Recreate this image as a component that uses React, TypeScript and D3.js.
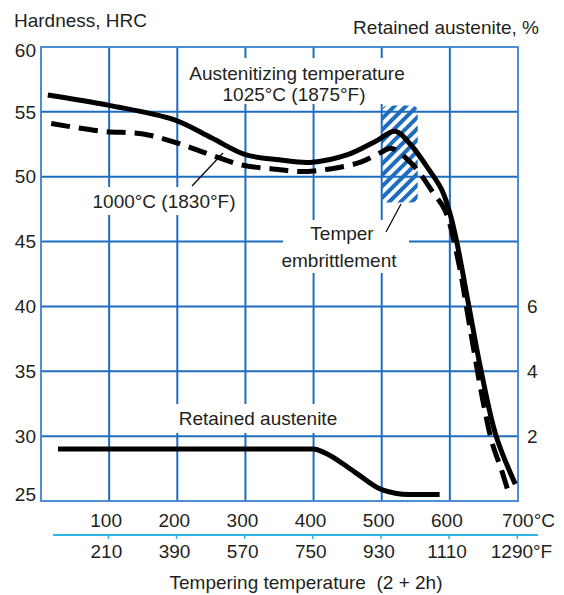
import React from 'react';
import * as d3 from 'd3';

// ---- data ----
const C_TICKS = [100, 200, 300, 400, 500, 600, 700];
const C_LABELS = ['100', '200', '300', '400', '500', '600', '700°C'];
const F_TICKS = [210, 390, 570, 750, 930, 1110, 1290];
const F_LABELS = ['210', '390', '570', '750', '930', '1110', '1290°F'];
const HRC_TICKS = [25, 30, 35, 40, 45, 50, 55, 60];
const RA_TICKS = [2, 4, 6];

// Austenitizing 1025°C: [°C, HRC]
const AUST_1025: [number, number][] = [
  [10, 56.3], [100, 55.5], [195, 54.4], [250, 53.0], [300, 51.7], [350, 51.3],
  [395, 51.1], [450, 51.7], [490, 52.7], [520, 53.5], [542, 52.5], [566, 50.8],
  [588, 49.0], [600, 47.2], [610, 45.0], [628, 40.0], [646, 35.0], [668, 30.0],
  [696, 26.3],
];
// Austenitizing 1000°C: [°C, HRC]
const AUST_1000: [number, number][] = [
  [15, 54.1], [90, 53.5], [150, 53.3], [200, 52.6], [248, 51.7],
  [295, 50.9], [340, 50.6], [380, 50.4], [424, 50.6], [468, 51.1], [500, 51.9],
  [514, 52.2], [546, 50.9], [575, 48.8], [593, 47.4], [612, 43.6], [630, 38.2],
  [649, 32.6], [662, 29.5], [677, 27.2], [688, 25.3],
];
// Retained austenite: [°C, %]
const RETAINED: [number, number][] = [
  [25, 1.6], [200, 1.6], [400, 1.6], [415, 1.5], [460, 0.9], [500, 0.35],
  [540, 0.2], [585, 0.2],
];
// Temper embrittlement zone
const EMBRITTLE_C = [500, 553];
const EMBRITTLE_HRC = [48.0, 55.5];

const FONT = '"Liberation Sans", Arial, Helvetica, sans-serif';
const TEXT = '#231f20';
const GRID = '#1f6dbf';
const BORDER = '#3a82d2';
const CYAN = '#2fb4e6';

export default function App() {
  const W = 564, H = 595;
  const L = 41, R = 518, T = 47, B = 501;
  const x = d3.scaleLinear().domain([0, 700]).range([L, R]);
  const y = d3.scaleLinear().domain([25, 60]).range([B, T]);
  const ra = d3.scaleLinear().domain([0, 14]).range([B, T]);
  const fToC = (f: number) => ((f - 32) * 5) / 9;

  const line = d3
    .line<[number, number]>()
    .x((d) => x(d[0]))
    .y((d) => y(d[1]))
    .curve(d3.curveCatmullRom.alpha(0.5));
  const raLine = d3
    .line<[number, number]>()
    .x((d) => x(d[0]))
    .y((d) => ra(d[1]))
    .curve(d3.curveMonotoneX);

  const fs = 19;
  const hx0 = x(EMBRITTLE_C[0]), hx1 = x(EMBRITTLE_C[1]);
  const hy0 = y(EMBRITTLE_HRC[1]), hy1 = y(EMBRITTLE_HRC[0]);

  return (
    <svg
      width={W}
      height={H}
      style={{ position: 'absolute', left: 0, top: 0, background: '#fff' }}
      fontFamily={FONT}
      fontSize={fs}
    >
      <defs>
        <pattern id="hatch" patternUnits="userSpaceOnUse" width={8} height={8} patternTransform="rotate(45)">
          <rect x={0} y={0} width={4} height={8} fill={GRID} />
        </pattern>
        <clipPath id="hclip">
          <rect x={hx0} y={hy0} width={hx1 - hx0} height={hy1 - hy0} rx={6} />
        </clipPath>
      </defs>
      <rect x={0} y={0} width={W} height={H} fill="#fff" />

      {/* grid */}
      {C_TICKS.slice(0, -1).map((c) => (
        <line key={'v' + c} x1={x(c)} x2={x(c)} y1={T} y2={B} stroke={GRID} strokeWidth={2} />
      ))}
      {HRC_TICKS.slice(1, -1).map((h) => (
        <line key={'h' + h} x1={L} x2={R} y1={y(h)} y2={y(h)} stroke={GRID} strokeWidth={2} />
      ))}
      <rect x={L} y={T} width={R - L} height={B - T} fill="none" stroke={BORDER} strokeWidth={1.8} />

      {/* label backgrounds */}
      <rect x={182} y={58} width={230} height={46} fill="#fff" />
      <rect x={90} y={187} width={148} height={28} fill="#fff" />
      <rect x={283} y={220} width={126} height={53} fill="#fff" />
      <rect x={170} y={404} width={182} height={29} fill="#fff" />

      {/* hatch */}
      <rect x={hx0} y={hy0} width={hx1 - hx0} height={hy1 - hy0} fill="url(#hatch)" clipPath="url(#hclip)" />

      {/* curves */}
      <path d={line(AUST_1025) || ''} fill="none" stroke="#000" strokeWidth={5} strokeLinejoin="round" />
      <path d={line(AUST_1000) || ''} fill="none" stroke="#000" strokeWidth={5} strokeDasharray="19 9" />
      <path d={raLine(RETAINED) || ''} fill="none" stroke="#000" strokeWidth={5} />

      {/* leader lines */}
      <line x1={192} y1={186} x2={223} y2={153} stroke="#000" strokeWidth={1.2} />
      <line x1={386} y1={232} x2={401} y2={204} stroke="#000" strokeWidth={1.2} />

      {/* y labels */}
      {HRC_TICKS.map((h, i) => (
        <text key={'yl' + h} x={36} y={i === 0 ? y(h) - 7 : y(h) + (i === HRC_TICKS.length - 1 ? 3 : 0)} dy="0.35em" textAnchor="end" fill={TEXT}>
          {h}
        </text>
      ))}
      {RA_TICKS.map((r) => (
        <text key={'ra' + r} x={527} y={ra(r)} dy="0.35em" fill={TEXT}>
          {r}
        </text>
      ))}

      {/* x axis °C */}
      {C_TICKS.map((c, i) =>
        i === C_TICKS.length - 1 ? (
          <text key={'cl' + c} x={x(c) + 37} y={520} dy="0.35em" textAnchor="end" fill={TEXT}>
            {C_LABELS[i]}
          </text>
        ) : (
          <text key={'cl' + c} x={x(c) - 3} y={520} dy="0.35em" textAnchor="middle" fill={TEXT}>
            {C_LABELS[i]}
          </text>
        )
      )}
      {/* °F axis */}
      <line x1={53} x2={538} y1={535} y2={535} stroke={CYAN} strokeWidth={1.8} />
      {F_TICKS.map((f) => (
        <line key={'ft' + f} x1={x(fToC(f))} x2={x(fToC(f))} y1={535} y2={539} stroke={CYAN} strokeWidth={1.5} />
      ))}
      {F_TICKS.map((f, i) =>
        i === F_TICKS.length - 1 ? (
          <text key={'fl' + f} x={x(fToC(f)) + 35} y={551} dy="0.35em" textAnchor="end" fill={TEXT}>
            {F_LABELS[i]}
          </text>
        ) : (
          <text key={'fl' + f} x={x(fToC(f)) - 2} y={551} dy="0.35em" textAnchor="middle" fill={TEXT}>
            {F_LABELS[i]}
          </text>
        )
      )}

      {/* titles */}
      <text x={14} y={20} dy="0.35em" fill={TEXT}>Hardness, HRC</text>
      <text x={539} y={27} dy="0.35em" textAnchor="end" fill={TEXT}>Retained austenite, %</text>
      <text x={306} y={582} dy="0.35em" textAnchor="middle" fill={TEXT} style={{ whiteSpace: 'pre' }}>
        {'Tempering temperature  (2 + 2h)'}
      </text>

      {/* annotations */}
      <text x={297} y={73} dy="0.35em" textAnchor="middle" fill={TEXT}>Austenitizing temperature</text>
      <text x={294} y={94} dy="0.35em" textAnchor="middle" fill={TEXT}>1025°C (1875°F)</text>
      <text x={164} y={201} dy="0.35em" textAnchor="middle" fill={TEXT}>1000°C (1830°F)</text>
      <text x={342} y={233} dy="0.35em" textAnchor="middle" fill={TEXT}>Temper</text>
      <text x={339} y={260} dy="0.35em" textAnchor="middle" fill={TEXT}>embrittlement</text>
      <text x={258} y={418} dy="0.35em" textAnchor="middle" fill={TEXT}>Retained austenite</text>
    </svg>
  );
}
